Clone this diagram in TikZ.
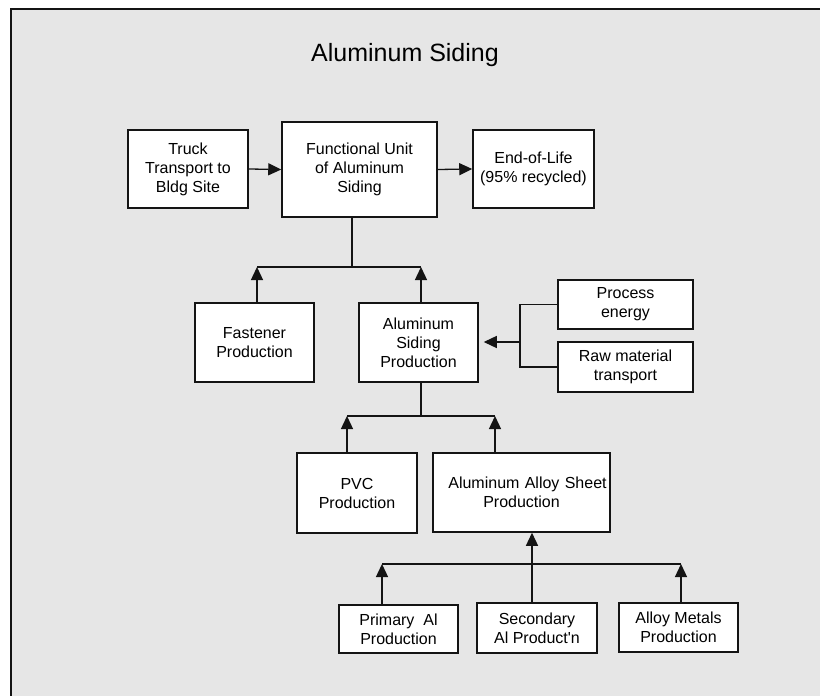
\documentclass[tikz,border=0pt]{standalone}
\usepackage{fontspec}
\newfontfamily\arial{Liberation Sans}
\usetikzlibrary{arrows.meta}
\definecolor{bgc}{RGB}{230,230,230}
\definecolor{inkc}{RGB}{20,20,20}
\begin{document}
\begin{tikzpicture}[x=1pt,y=-1pt,
  boxnode/.style={draw=inkc, line width=1.5pt, fill=white, rectangle, align=center, inner sep=0pt,
    font=\arial\fontsize{16}{19}\selectfont},
  conn/.style={draw=inkc, line width=1.3pt},
  arr/.style={conn, -{Triangle[length=13pt,width=12pt]}}]
\useasboundingbox (0,0) rectangle (820,696);
\fill[white] (0,0) rectangle (820,696);
\fill[bgc] (11,9) rectangle (820,696);
\draw[inkc, line width=1.5pt] (11,696) -- (11,9) -- (820,9);
\node[font=\arial\fontsize{25}{29}\selectfont] (title) at (405,55) {Aluminum Siding};
% boxes
\node[boxnode, minimum width=120pt, minimum height=78pt] (truck) at (188,169) {Truck\\Transport to\\Bldg Site};
\node[boxnode, minimum width=155pt, minimum height=95pt] (fu) at (359.5,169.5) {Functional Unit\\of Aluminum\\Siding};
\node[boxnode, minimum width=121pt, minimum height=78pt] (eol) at (533.5,169) {End-of-Life\\(95\% recycled)};
\node[boxnode, minimum width=119pt, minimum height=79pt] (fast) at (254.5,342.5) {Fastener\\Production};
\node[boxnode, minimum width=119pt, minimum height=79pt] (asp) at (418.5,342.5) {Aluminum\\Siding\\Production};
\node[boxnode, minimum width=135pt, minimum height=49pt] (pe) at (625.5,304.5) {Process\\energy};
\node[boxnode, minimum width=135pt, minimum height=50pt] (rm) at (625.5,367) {Raw material\\transport};
\node[boxnode, minimum width=120pt, minimum height=80pt] (pvc) at (357,493) {PVC\\Production};
\node[boxnode, minimum width=177pt, minimum height=79pt, text width=177pt] (aasp) at (521.5,492.5) {\hspace*{12pt}Aluminum Alloy Sheet\\Production};
\node[boxnode, minimum width=119pt, minimum height=48pt] (prim) at (398.5,629) {Primary\ \ Al\\Production};
\node[boxnode, minimum width=120pt, minimum height=50pt] (sec) at (537,628) {Secondary\\Al Product'n};
\node[boxnode, minimum width=119pt, minimum height=49pt] (alloy) at (678.5,627.5) {Alloy Metals\\Production};
% top row arrows
\draw[arr] (truck.east) -- (fu.west);
\draw[arr] (fu.east) -- (eol.west);
% tree 1
\coordinate (j1) at (352,267);
\coordinate (j1l) at (257,267);
\coordinate (j1r) at (421,267);
\draw[conn] (j1) -- (j1 |- fu.south);
\draw[conn] (j1l) -- (j1r);
\draw[arr] (fast.north -| j1l) -- (j1l);
\draw[arr] (asp.north -| j1r) -- (j1r);
% bracket
\coordinate (b1) at (520,342);
\draw[conn] (pe.west) -- (pe.west -| b1) -- (rm.west -| b1) -- (rm.west);
\draw[arr, shorten >=5pt] (b1) -- (b1 -| asp.east);
% tree 2
\coordinate (j2) at (421,416);
\coordinate (j2l) at (347,416);
\coordinate (j2r) at (495,416);
\draw[conn] (j2) -- (j2 |- asp.south);
\draw[conn] (j2l) -- (j2r);
\draw[arr] (pvc.north -| j2l) -- (j2l);
\draw[arr] (aasp.north -| j2r) -- (j2r);
% tree 3
\coordinate (j3) at (532,564);
\coordinate (j3l) at (382,564);
\coordinate (j3r) at (681,564);
\draw[conn] (j3l) -- (j3r);
\draw[arr] (sec.north -| j3) -- (aasp.south -| j3);
\draw[arr] (prim.north -| j3l) -- (j3l);
\draw[arr] (alloy.north -| j3r) -- (j3r);
\end{tikzpicture}
\end{document}
